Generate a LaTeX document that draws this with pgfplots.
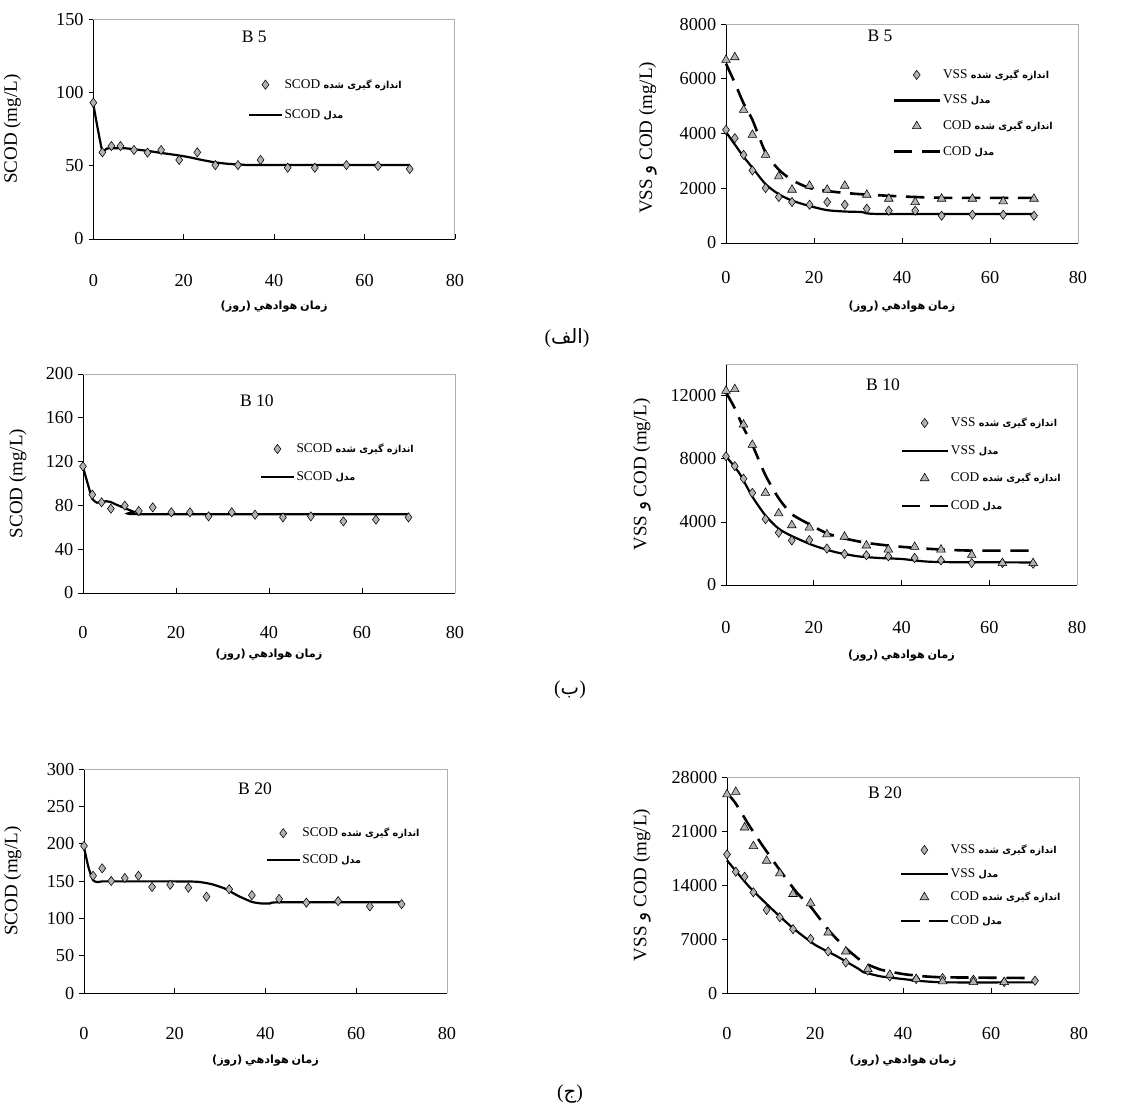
\documentclass[border=0pt]{standalone}
\usepackage{fontspec}
\setmainfont{Liberation Serif}
\newfontfamily\fa[Script=Arabic]{DejaVu Sans}
\newfontfamily\dv{DejaVu Sans}
\TeXXeTstate=1
\usepackage{pgfplots}
\pgfplotsset{compat=1.18}
\definecolor{mfill}{RGB}{178,178,178}
\definecolor{boxgray}{RGB}{175,175,175}
% x label, written in visual order (left to right)
\newcommand{\xlab}{{\fontsize{8}{10}\selectfont\bfseries{\dv(}{\fa\hbox{روز}}{\dv)} {\fa\hbox{هوادهي}} {\fa\hbox{زمان}}}}
\newcommand{\fab}{\fa\bfseries\fontsize{6.8}{8}\selectfont}
\newcommand{\measured}{{\fab\hbox{شده} \hbox{گیری} \hbox{اندازه}}}
\newcommand{\modelw}{{\fab\hbox{مدل}}}
\pgfplotsset{
  panel/.style={
    scale only axis, anchor=south west, clip=false,
    xmin=0, xmax=80, xtick={0,20,40,60,80}, ymin=0,
    axis x line*=bottom, axis y line*=left,
    axis line style={black, line width=0.5pt},
    tick align=inside, major tick length=1.2mm, tick style={black, line width=0.5pt},
    ytick style={xshift=-1.2mm},
    ticklabel style={font=\fontsize{13}{15}\selectfont},
    /pgf/number format/assume math mode=true,
    /pgf/number format/1000 sep={},
    scaled y ticks=false,
    yticklabel style={anchor=east, xshift=-1.2mm},
    xticklabel style={anchor=center},
    xlabel={\xlab},
    xlabel style={at={(axis description cs:0.5,0)}, anchor=center},
    ylabel style={font=\fontsize{13.5}{16}\selectfont, anchor=center},
    legend style={draw=none, fill=none, inner sep=0pt, anchor=north west,
      font=\fontsize{9.5}{11}\selectfont, legend cell align=left,
      nodes={inner sep=0.5mm, text height=2.6mm, text depth=0.9mm}},
    legend image code/.code={\draw[mark repeat=2,mark phase=2,##1] plot coordinates {(0mm,0mm) (5.75mm,0mm) (11.5mm,0mm)};},
    after end axis/.code={\draw[boxgray, line width=0.6pt] (rel axis cs:0,1) -- (rel axis cs:1,1) -- (rel axis cs:1,0);},
  },
  scodleg/.style={legend image code/.code={\draw[mark repeat=2,mark phase=2,##1] plot coordinates {(0mm,0mm) (4mm,0mm) (8mm,0mm)};}},
  meas/.style={only marks, mark=diamond*, mark size=1.15mm, mark options={fill=mfill, draw=black, line width=0.4pt, solid}},
  tmeas/.style={only marks, mark=triangle*, mark size=1.25mm, mark options={fill=mfill, draw=black, line width=0.4pt, solid}},
  model/.style={no marks, black, line width=0.55mm, smooth, tension=0.4},
  dmodel/.style={no marks, black, line width=0.65mm, dash pattern=on 4.6mm off 2.4mm, smooth, tension=0.4},
}
\begin{document}
\begin{tikzpicture}
\useasboundingbox (0,0) rectangle (284.5mm,-277.25mm);

% ---------- Panel 1: SCOD B5
\begin{axis}[panel, scodleg, at={(23.33mm,-59.75mm)}, width=90.4mm, height=54.9mm,
  ymax=150, ytick={0,50,100,150},
  xticklabel style={yshift=-10.4mm}, xlabel style={yshift=-17mm},
  ylabel={SCOD (mg/L)}, ylabel style={at={(axis description cs:-0.224,0.5)}},
  legend style={at={(axis description cs:0.428,0.745)}, row sep=3mm}]
\addplot[meas] coordinates {(0,93.1)(2,59.2)(4,63.5)(6,63.5)(9,60.8)(12,59)(15,60.8)(19,54)(23,59.2)(27,50.5)(32,50.5)(37,54)(43,48.7)(49,48.7)(56,50.5)(63,49.9)(70,47.8)};
\addlegendentry{SCOD \measured}
\addplot[model, tension=0.3] coordinates {(0,92)(1,75)(2,60)(3,61.8)(5,62)(7,62)(9,61.3)(12,60.2)(15,58.8)(18,57.5)(21,56)(24,54)(27,52.3)(30,51.3)(33,50.8)(36,50.5)(70,50.5)};
\addlegendentry{SCOD \modelw}
\node[font=\fontsize{12.5}{14}\selectfont] at (axis cs:35.6,138) {B 5};
\end{axis}

% ---------- Panel 2: VSS/COD B5
\begin{axis}[panel, at={(181.5mm,-60.75mm)}, width=88mm, height=54.75mm,
  ymax=8000, ytick={0,2000,4000,6000,8000},
  xticklabel style={yshift=-8.75mm}, xlabel style={yshift=-16mm},
  ylabel={VSS {\fa و} COD (mg/L)}, ylabel style={at={(axis description cs:-0.222,0.48)}},
  legend style={at={(axis description cs:0.472,0.81)}, row sep=1.9mm}]
\addplot[meas] coordinates {(0,4134)(2,3830)(4,3222)(6,2651)(9,2006)(12,1678)(15,1496)(19,1398)(23,1496)(27,1398)(32,1252)(37,1180)(43,1180)(49,997)(56,1034)(63,1034)(70,997)};
\addlegendentry{VSS \measured}
\addplot[model] coordinates {(0,4050)(2,3600)(4,3150)(6,2750)(9,2150)(12,1780)(15,1550)(19,1350)(23,1200)(27,1150)(31,1130)(35,1060)(70,1060)};
\addlegendentry{VSS \modelw}
\addplot[tmeas] coordinates {(0,6688)(2,6785)(4,4864)(6,3952)(9,3222)(12,2432)(15,1946)(19,2092)(23,1946)(27,2092)(32,1763)(37,1617)(43,1496)(49,1617)(56,1617)(63,1520)(70,1617)};
\addlegendentry{COD \measured}
\addplot[dmodel] coordinates {(0,6550)(2,5850)(4,5100)(6,4500)(9,3300)(12,2680)(15,2300)(19,2010)(24,1880)(30,1790)(40,1700)(50,1650)(70,1650)};
\addlegendentry{COD \modelw}
\node[font=\fontsize{12.5}{14}\selectfont] at (axis cs:35,7560) {B 5};
\end{axis}

% ---------- Panel 3: SCOD B10
\begin{axis}[panel, scodleg, at={(20.75mm,-148.25mm)}, width=93mm, height=54.75mm,
  ymax=200, ytick={0,40,80,120,160,200},
  xticklabel style={yshift=-10mm}, xlabel style={yshift=-15.5mm},
  ylabel={SCOD (mg/L)}, ylabel style={at={(axis description cs:-0.175,0.5)}},
  legend style={at={(axis description cs:0.476,0.70)}, row sep=2.5mm}]
\addplot[meas] coordinates {(0,115.7)(2,89.8)(4,82.8)(6,77)(9,79.8)(12,74.9)(15,78.2)(19,73.7)(23,73.7)(27,70)(32,73.7)(37,71.5)(43,69.1)(49,70)(56,65.4)(63,67)(70,69.1)};
\addlegendentry{SCOD \measured}
\addplot[model, tension=0.3] coordinates {(0,115)(1,100)(2,86)(3,82.5)(4,83)(5,83.8)(6,83)(7,81)(9,77.5)(11,74)(12,72)(70,72)};
\addlegendentry{SCOD \modelw}
\node[font=\fontsize{12.5}{14}\selectfont] at (axis cs:37.4,176) {B 10};
\end{axis}

% ---------- Panel 4: VSS/COD B10
\begin{axis}[panel, at={(181.5mm,-146.25mm)}, width=87.75mm, height=55.25mm,
  ymax=14000, ytick={0,4000,8000,12000},
  xticklabel style={yshift=-10.75mm}, xlabel style={yshift=-17.75mm},
  ylabel={VSS {\fa و} COD (mg/L)}, ylabel style={at={(axis description cs:-0.239,0.5)}},
  legend style={at={(axis description cs:0.496,0.775)}, row sep=2.4mm}]
\addplot[meas] coordinates {(0,8150)(2,7530)(4,6738)(6,5840)(9,4171)(12,3315)(15,2823)(19,2845)(23,2310)(27,1968)(32,1882)(37,1818)(43,1711)(49,1561)(56,1390)(63,1390)(70,1348)};
\addlegendentry{VSS \measured}
\addplot[model] coordinates {(0,8150)(3,7100)(6,5600)(9,4400)(12,3570)(15,3100)(20,2500)(25,2080)(30,1820)(35,1710)(40,1650)(45,1500)(50,1450)(70,1430)};
\addlegendentry{VSS \modelw}
\addplot[tmeas] coordinates {(0,12300)(2,12406)(4,10160)(6,8877)(9,5840)(12,4535)(15,3786)(19,3636)(23,3208)(27,3059)(32,2503)(37,2246)(43,2417)(49,2246)(56,1904)(63,1390)(70,1390)};
\addlegendentry{COD \measured}
\addplot[dmodel] coordinates {(0,12200)(2,11200)(4,9950)(6,8880)(9,6950)(12,5500)(15,4490)(19,3850)(23,3270)(27,2950)(32,2670)(37,2500)(43,2350)(49,2250)(56,2180)(70,2180)};
\addlegendentry{COD \modelw}
\node[font=\fontsize{12.5}{14}\selectfont] at (axis cs:35.8,12670) {B 10};
\end{axis}

% ---------- Panel 5: SCOD B20
\begin{axis}[panel, scodleg, at={(21mm,-248.25mm)}, width=90.75mm, height=56mm,
  ymax=300, ytick={0,50,100,150,200,250,300},
  xticklabel style={yshift=-10mm}, xlabel style={yshift=-17mm},
  ylabel={SCOD (mg/L)}, ylabel style={at={(axis description cs:-0.196,0.5)}},
  legend style={at={(axis description cs:0.501,0.755)}, row sep=2.25mm}]
\addplot[meas] coordinates {(0,197)(2,157)(4,167)(6,150)(9,154)(12,157)(15,142)(19,145)(23,141)(27,129)(32,139)(37,131)(43,126)(49,121)(56,123)(63,116)(70,119)};
\addlegendentry{SCOD \measured}
\addplot[model, tension=0.3] coordinates {(0,195)(1,168)(2,151)(3,148.5)(4,149.5)(10,149.5)(20,149.5)(25,149)(28,146)(31,140)(34,130)(37,122)(39,120)(41,120)(43,121.5)(70,121.5)};
\addlegendentry{SCOD \modelw}
\node[font=\fontsize{12.5}{14}\selectfont] at (axis cs:37.7,274) {B 20};
\end{axis}

% ---------- Panel 6: VSS/COD B20
\begin{axis}[panel, at={(181.75mm,-248.25mm)}, width=88mm, height=54mm,
  ymax=28000, ytick={0,7000,14000,21000,28000},
  xticklabel style={yshift=-10mm}, xlabel style={yshift=-17mm},
  ylabel={VSS {\fa و} COD (mg/L)}, ylabel style={at={(axis description cs:-0.241,0.5)}},
  legend style={at={(axis description cs:0.491,0.705)}, row sep=1.4mm}]
\addplot[meas] coordinates {(0,17965)(2,15725)(4,15077)(6,13053)(9,10770)(12,9822)(15,8271)(19,7022)(23,5385)(27,3963)(32,2900)(37,2154)(43,1809)(49,1939)(56,1723)(63,1422)(70,1594)};
\addlegendentry{VSS \measured}
\addplot[model, tension=0.3] coordinates {(0,17200)(5,13800)(10,11000)(15,8400)(20,6250)(25,4750)(30,3100)(31,2700)(35,2150)(40,1810)(45,1510)(50,1380)(70,1380)};
\addlegendentry{VSS \modelw}
\addplot[tmeas] coordinates {(0,25762)(2,26063)(4,21454)(6,19041)(9,17146)(12,15509)(15,12838)(19,11632)(23,7841)(27,5385)(32,3102)(37,2369)(43,1809)(49,1508)(56,1422)(63,1422)};
\addlegendentry{COD \measured}
\addplot[dmodel, tension=0.3] coordinates {(0,26000)(2,24550)(5,21750)(8,19170)(12,15940)(16,12920)(19,11200)(23,8190)(27,5820)(31,3960)(35,3020)(40,2460)(45,2150)(50,2030)(70,1940)};
\addlegendentry{COD \modelw}
\node[font=\fontsize{12.5}{14}\selectfont] at (axis cs:35.9,25900) {B 20};
\end{axis}

% ---------- sub-figure captions
\node[font=\fontsize{14}{16}\selectfont] at (141.75mm,-84.5mm) {(\hbox{\fa الف})};
\node[font=\fontsize{14}{16}\selectfont] at (142.5mm,-172.5mm) {(\hbox{\fa ب})};
\node[font=\fontsize{14}{16}\selectfont] at (142.5mm,-273.5mm) {(\hbox{\fa ج})};
\end{tikzpicture}
\end{document}
